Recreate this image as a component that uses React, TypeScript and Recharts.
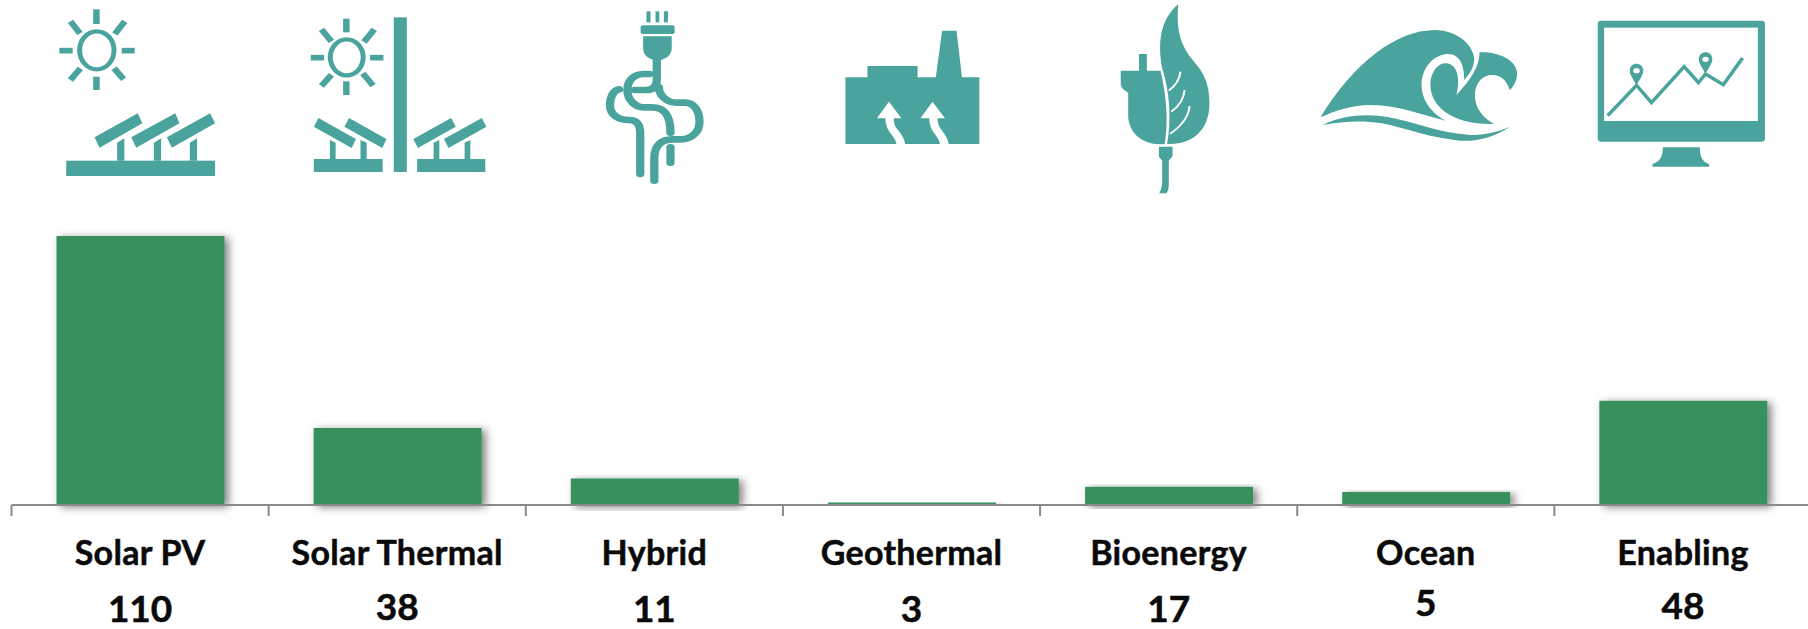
import { BarChart, Bar, XAxis, YAxis } from "recharts";

const categories = [
  "Solar PV",
  "Solar Thermal",
  "Hybrid",
  "Geothermal",
  "Bioenergy",
  "Ocean",
  "Enabling",
];
// heights as drawn in the picture (they do not quite follow the printed counts)
const barValues = [110, 31.5, 10.8, 1, 7.5, 5.3, 42.6];
const countLabels = ["110", "38", "11", "3", "17", "5", "48"];
const tickBoundaries = [0, 1, 2, 3, 4, 5, 6, 7];

const chartData = categories.map((name, i) => ({
  name,
  value: barValues[i],
  count: countLabels[i],
  slot: i,
}));

const TEAL = "#4AA49D";
const GREEN = "#38915B";
const AXIS = "#8A8A8A";
const FONT = "Lato, sans-serif";

// the "5" under Ocean and "48" under Enabling sit a little higher
const countNudge: Record<string, number> = { Ocean: -6, Enabling: -3, "Solar Thermal": -2 };

function CategoryTick({ x, payload, index }: any) {
  const name = payload.value;
  return (
    <g fontFamily={FONT} fontWeight={700} fill="#0a0a0a" stroke="#0a0a0a" strokeWidth={0.5} textAnchor="middle">
      <text x={x} y={565} fontSize={34} letterSpacing={0.3}>
        {name}
      </text>
      <text x={x} y={622 + (countNudge[name] || 0)} fontSize={37}>
        {countLabels[index]}
      </text>
    </g>
  );
}

function Ray({ d }: { d: number[] }) {
  return <line x1={d[0]} y1={d[1]} x2={d[2]} y2={d[3]} stroke={TEAL} strokeWidth={17} />;
}

function Poly({ p }: { p: string }) {
  return <polygon points={p} fill={TEAL} />;
}

function Sun({ cx, cy, rx, ry, rays }: { cx: number; cy: number; rx: number; ry: number; rays: number[][] }) {
  return (
    <g>
      <ellipse cx={cx} cy={cy} rx={rx} ry={ry} fill="none" stroke={TEAL} strokeWidth={13} />
      {rays.map((r, i) => (
        <Ray key={i} d={r} />
      ))}
    </g>
  );
}

function SolarIcons() {
  return (
    <g transform="scale(0.3827,0.3333)">
      <Sun
        cx={253}
        cy={151}
        rx={45}
        ry={57}
        rays={[
          [252, 28, 252, 72],
          [252, 230, 252, 270],
          [155, 152, 190, 152],
          [318, 152, 352, 152],
          [184, 64, 209, 100],
          [326, 64, 300, 102],
          [184, 240, 210, 205],
          [323, 238, 298, 205],
        ]}
      />
      <Poly p="247,412 360,340 372,370 260,443" />
      <Poly p="343,412 458,340 469,370 356,443" />
      <Poly p="436,412 549,340 562,370 449,443" />
      <Poly p="306,428 325,415 325,482 306,482" />
      <Poly p="402,428 421,415 421,482 402,482" />
      <Poly p="496,428 515,415 515,482 496,482" />
      <rect x={173} y={482} width={389} height={46} fill={TEAL} />

      <Sun
        cx={906}
        cy={172}
        rx={43}
        ry={54}
        rays={[
          [905, 56, 905, 97],
          [905, 244, 905, 285],
          [812, 173, 847, 173],
          [967, 173, 1002, 173],
          [840, 88, 866, 124],
          [978, 88, 951, 126],
          [840, 258, 866, 224],
          [975, 257, 948, 220],
        ]}
      />
      <rect x={1029} y={52} width={34} height={464} fill={TEAL} />
      <Poly p="832,354 930,417 919,444 820,380" />
      <Poly p="912,354 1010,417 999,444 900,380" />
      <Poly p="1080,417 1179,354 1191,380 1092,444" />
      <Poly p="1160,417 1259,354 1271,380 1172,444" />
      <Poly p="862,420 877,428 877,477 862,477" />
      <Poly p="942,420 958,428 958,477 942,477" />
      <Poly p="1133,428 1148,420 1148,477 1133,477" />
      <Poly p="1214,428 1229,420 1229,477 1214,477" />
      <rect x={820} y={477} width={180} height={39} fill={TEAL} />
      <rect x={1090} y={477} width={178} height={39} fill={TEAL} />
    </g>
  );
}

function MiddleIcons() {
  const cable = { fill: "none", stroke: TEAL, strokeWidth: 20, strokeLinecap: "round" as const };
  return (
    <g transform="translate(600,0) scale(0.4146,0.3333)">
      {/* plug and tangled cable */}
      <rect x={112} y={34} width={10} height={33} fill={TEAL} />
      <rect x={134} y={34} width={9} height={33} fill={TEAL} />
      <rect x={154} y={34} width={10} height={33} fill={TEAL} />
      <rect x={98} y={76} width={82} height={26} rx={5} fill={TEAL} />
      <path d="M104 109 H173 V145 C173 165 160 177 146 180 H131 C116 177 104 165 104 145 Z" fill={TEAL} />
      <path d="M137 178 V240 C137 262 125 270 110 270 H84" {...cable} />
      <path d="M120 222 H105 C80 222 66 245 66 270 C66 300 85 322 105 322 H125 C155 322 170 345 170 398" {...cable} />
      <path d="M142 262 C142 285 160 308 185 308 H205 C228 308 240 335 240 365 C240 395 222 418 195 418 H175 C145 418 131 440 131 475 V542" {...cable} />
      <path d="M46 268 C30 272 24 295 24 315 C24 345 45 360 70 360 C90 360 97 375 97 400 V522" {...cable} />
      <path d="M170 442 V488" {...cable} />

      {/* factory */}
      <path d="M592 232 H645 V198 H766 V232 H810 L825 92 H860 L873 232 H915 V432 H592 Z" fill={TEAL} />
      <polygon points="697,305 727,355 668,355" fill="#fff" />
      <polygon points="802,305 832,355 773,355" fill="#fff" />
      <path d="M698 352 C698 400 722 395 726 434" fill="none" stroke="#fff" strokeWidth={20} />
      <path d="M804 352 C804 400 826 395 831 434" fill="none" stroke="#fff" strokeWidth={20} />

      {/* leaf plug */}
      <path d="M1256 212 H1300 V162 H1319 V212 H1352 C1365 280 1372 360 1362 432 C1310 438 1274 400 1274 345 V278 C1262 270 1256 262 1256 250 Z" fill={TEAL} />
      <path d="M1395 12 C1390 70 1395 120 1420 165 C1445 205 1470 230 1470 310 C1470 390 1430 435 1368 432 C1378 360 1375 280 1356 205 C1345 130 1350 60 1395 12 Z" fill={TEAL} />
      <path d="M1400 215 C1398 240 1385 260 1372 272" fill="none" stroke="#fff" strokeWidth={5} />
      <path d="M1410 270 C1408 300 1395 320 1378 335" fill="none" stroke="#fff" strokeWidth={5} />
      <path d="M1422 318 C1420 350 1400 380 1375 402" fill="none" stroke="#fff" strokeWidth={5} />
      <path d="M1348 440 H1381 V468 L1372 482 V550 C1372 565 1370 575 1366 580 H1349 C1354 570 1356 555 1356 540 V482 L1348 470 Z" fill={TEAL} />
    </g>
  );
}

function Pin({ cx, cy }: { cx: number; cy: number }) {
  return (
    <g>
      <path d={`M${cx - 19} ${cy} C${cx - 19} ${cy - 28} ${cx + 19} ${cy - 28} ${cx + 19} ${cy} C${cx + 19} ${cy + 14} ${cx + 6} ${cy + 30} ${cx} ${cy + 44} C${cx - 6} ${cy + 30} ${cx - 19} ${cy + 14} ${cx - 19} ${cy} Z`} fill={TEAL} />
      <ellipse cx={cx} cy={cy} rx={9} ry={8} fill="#fff" />
    </g>
  );
}

function RightIcons() {
  return (
    <g transform="translate(1250,0) scale(0.3559,0.3333)">
      {/* wave */}
      <path d="M198 352 C290 190 410 90 520 90 C580 92 625 130 630 175 C630 205 615 225 602 240 C602 195 590 162 555 162 C510 165 482 210 482 255 C482 300 510 340 550 362 C480 345 420 315 340 315 C285 315 240 332 198 352 Z" fill={TEAL} />
      <path d="M580 285 C590 250 588 190 550 190 C525 190 507 220 507 255 C507 320 570 375 685 372 C650 350 630 320 632 280 C635 245 655 225 680 225 C705 225 720 240 730 270 C745 255 752 235 750 215 C745 180 700 155 645 157 C645 200 620 240 580 285 Z" fill={TEAL} />
      <path d="M205 375 C260 345 330 340 390 352 C460 365 530 400 620 405 C660 405 700 395 730 380 C690 410 640 425 590 422 C510 415 440 385 370 370 C310 360 260 365 205 375 Z" fill={TEAL} />

      {/* monitor */}
      <rect x={977} y={62} width={470} height={363} rx={10} fill={TEAL} />
      <rect x={995} y={83} width={432} height={280} fill="#fff" />
      <path d="M1160 442 H1264 C1264 470 1270 485 1290 492 V500 H1131 V492 C1152 485 1160 470 1160 442 Z" fill={TEAL} />
      <path d="M1005 347 L1086 256 L1128 308 L1220 200 L1260 248 L1280 222 L1330 254 L1384 174" fill="none" stroke={TEAL} strokeWidth={10} />
      <Pin cx={1086} cy={212} />
      <Pin cx={1280} cy={178} />
    </g>
  );
}

export default function App() {
  return (
    <div style={{ position: "absolute", left: 0, top: 0, width: 1808, height: 629, overflow: "hidden", background: "#fff" }}>
      <svg width={0} height={0} style={{ position: "absolute" }}>
        <defs>
          <filter id="barShadow" x="-10%" y="-10%" width="125%" height="130%">
            <feDropShadow dx={4} dy={2} stdDeviation={4} floodColor="#000" floodOpacity={0.5} />
          </filter>
        </defs>
      </svg>
      <BarChart
        width={1820}
        height={629}
        data={chartData}
        margin={{ top: 236, right: 8.5, bottom: 0, left: 11.5 }}
      >
        <YAxis hide domain={[0, 110]} />
        <XAxis
          dataKey="name"
          interval={0}
          height={0.01}
          axisLine={false}
          tickLine={false}
          tick={<CategoryTick />}
        />
        <XAxis
          xAxisId="edges"
          dataKey="slot"
          type="number"
          domain={[0, 7]}
          allowDataOverflow
          ticks={tickBoundaries}
          interval={0}
          height={123.99}
          tickSize={11}
          tickFormatter={() => ""}
          axisLine={{ stroke: AXIS, strokeWidth: 2 }}
          tickLine={{ stroke: AXIS, strokeWidth: 2 }}
        />
        <Bar
          dataKey="value"
          fill={GREEN}
          barSize={168}
          filter="url(#barShadow)"
          isAnimationActive={false}
        />
      </BarChart>
      <svg width={1808} height={230} style={{ position: "absolute", left: 0, top: 0, pointerEvents: "none" }}>
        <SolarIcons />
        <MiddleIcons />
        <RightIcons />
      </svg>
    </div>
  );
}
